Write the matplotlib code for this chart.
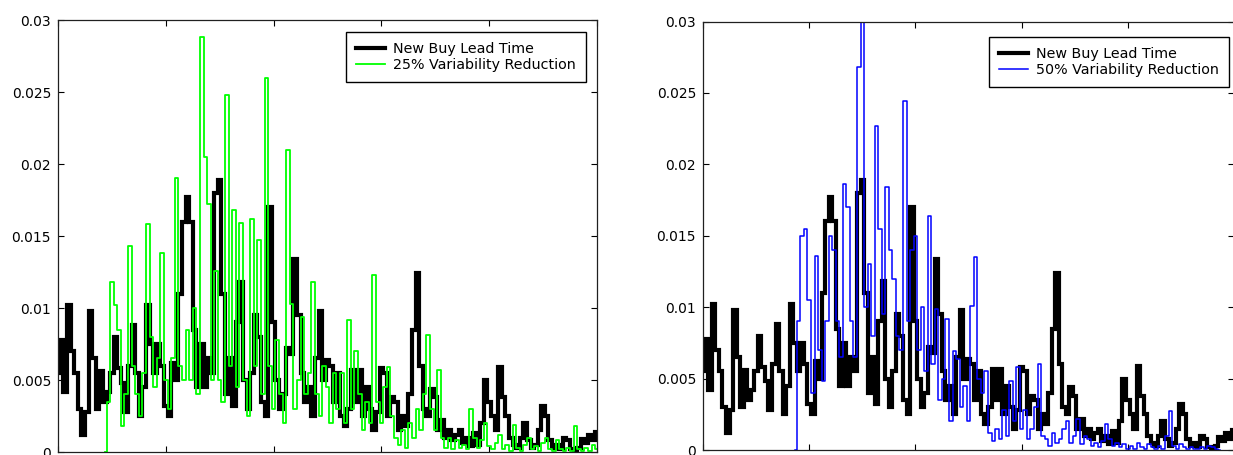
import numpy as np
import matplotlib
matplotlib.use("Agg")
import matplotlib.pyplot as plt

# Probability of each lead-time bin (x-axis in bins, y in probability)
base_start = 0
new_buy_lead_time = [
    5.5, 7.8, 4.2, 10.2, 7.0, 5.5, 3.0, 1.2, 2.8, 9.8,
    6.5, 3.0, 5.6, 3.5, 4.2, 5.5, 8.0, 5.8, 4.8, 2.8,
    6.0, 8.8, 5.5, 2.5, 4.5, 10.2, 7.5, 5.5, 7.5, 6.0,
    3.2, 2.5, 6.2, 5.0, 11.0, 16.0, 17.7, 16.0, 8.5, 4.5,
    7.5, 4.5, 6.5, 5.5, 18.0, 18.9, 11.0, 4.0, 6.5, 3.2,
    9.0, 11.8, 5.0, 3.0, 5.5, 9.5, 8.0, 3.5, 2.5, 17.0,
    9.0, 5.0, 3.0, 4.0, 7.2, 6.8, 13.4, 9.5, 5.5, 3.5,
    4.5, 2.5, 6.5, 9.8, 5.0, 6.4, 6.0, 3.5, 5.5, 2.5,
    1.8, 3.0, 5.7, 3.5, 5.7, 2.5, 4.5, 3.0, 1.5, 2.8,
    5.8, 5.5, 2.5, 3.8, 3.5, 1.5, 2.5, 1.8, 4.0, 8.5,
    12.4, 6.0, 3.0, 2.5, 4.4, 3.8, 1.5, 2.2, 1.0, 1.5,
    0.8, 1.2, 1.5, 0.6, 1.0, 0.4, 1.3, 0.5, 2.0, 5.0,
    3.5, 2.5, 1.5, 5.9, 3.8, 2.5, 1.0, 0.5, 0.3, 1.0,
    2.0, 0.8, 0.3, 0.5, 1.5, 3.2, 2.5, 0.8, 0.3, 0.5,
    0.2, 1.0, 0.8, 0.2, 0.1, 0.3, 0.9, 0.6, 1.2, 0.8,
    1.4,
]

reduction25_start = 13
reduction_25 = [
    0.0, 3.5, 11.8, 10.2, 8.5, 1.8, 4.0,
    14.3, 6.0, 4.0, 2.5, 5.5, 15.8, 8.0, 4.5, 6.5, 13.8,
    5.0, 3.0, 6.5, 19.0, 6.0, 5.0, 8.5, 5.0, 10.0, 4.0,
    28.8, 20.5, 17.2, 5.0, 12.6, 5.0, 3.5, 24.8, 6.0, 16.8,
    4.5, 15.9, 5.0, 2.5, 16.2, 6.0, 14.7, 4.0, 26.0, 6.0,
    3.0, 7.8, 4.0, 2.0, 21.0, 10.3, 3.0, 5.0, 9.4, 4.0,
    5.5, 11.8, 4.0, 2.5, 6.0, 4.5, 2.0, 5.5, 3.0, 5.5,
    2.0, 9.2, 3.0, 7.0, 4.0, 1.5, 3.5, 2.0, 12.3, 3.5,
    2.0, 4.5, 5.9, 2.5, 1.0, 0.5, 1.5, 0.3, 2.0, 1.0,
    3.0, 1.5, 4.0, 8.1, 3.0, 1.5, 5.7, 1.0, 0.3, 1.0,
    0.2, 0.8, 0.3, 0.5, 0.2, 3.0, 1.0, 0.3, 0.8, 2.0,
    0.4, 0.2, 0.6, 1.2, 0.2, 0.5, 0.1, 1.9, 0.3, 0.1,
    0.5, 1.0, 0.2, 0.4, 0.1, 0.6, 1.0, 0.2, 0.1, 0.8,
    0.2, 0.1, 0.3, 0.1, 1.8, 0.2, 0.1, 0.3, 0.1, 0.5, 0.2,
]

reduction50_start = 26
reduction_50 = [
    0.0, 9.0, 15.0, 15.5,
    10.5, 4.0, 13.6, 7.0, 4.8, 9.0, 15.0, 14.0, 9.0, 6.5,
    18.6, 17.0, 9.0, 6.5, 26.8, 30.0, 10.0, 13.0, 8.0, 22.7,
    15.5, 9.5, 18.4, 14.0, 12.0, 8.0, 7.0, 24.4, 9.0, 14.0,
    15.0, 7.0, 10.0, 5.5, 16.4, 6.0, 9.9, 3.5, 5.0, 9.2,
    2.0, 6.9, 6.4, 3.0, 4.5, 2.0, 10.1, 13.5, 5.0, 4.0,
    5.5, 1.2, 0.6, 1.5, 0.8, 2.8, 1.0, 4.8, 2.0, 5.8,
    1.5, 2.8, 0.8, 1.5, 3.0, 6.0, 1.0, 0.8, 0.3, 1.2,
    0.5, 0.8, 1.5, 2.0, 0.5, 1.0, 2.2, 0.4, 1.0, 0.8,
    0.3, 0.5, 0.2, 0.6, 1.8, 0.8, 0.3, 0.5, 0.2, 0.4,
    0.1, 0.3, 0.1, 0.5, 0.2, 0.1, 0.4, 0.2, 0.1, 0.3,
    0.1, 1.0, 2.7, 0.3, 0.1, 0.4, 0.2, 0.1, 0.2, 0.1,
    0.1, 0.2, 0.1, 0.3, 0.2, 0.1, 0.0,
]

y_ticks = [0, 0.005, 0.01, 0.015, 0.02, 0.025, 0.03]
y_tick_labels = ["0", "0.005", "0.01", "0.015", "0.02", "0.025", "0.03"]
x_ticks = [0, 30, 60, 90, 120, 150]

base_label = "New Buy Lead Time"
label_25 = "25% Variability Reduction"
label_50 = "50% Variability Reduction"


def series(start, values):
    v = np.asarray(values, dtype=float) * 1e-3
    x = np.arange(start, start + len(v))
    return x, v


plt.rcParams["font.family"] = ["DejaVu Sans"]
fig = plt.figure(figsize=(12.33, 4.55), dpi=100)

ax_left = fig.add_axes([58 / 1233, 1 - 452 / 455, 539 / 1233, 432 / 455])
ax_right = fig.add_axes([703 / 1233, 1 - 450 / 455, 531 / 1233, 428.5 / 455])

panels = [
    (ax_left, reduction25_start, reduction_25, label_25, (0, 1, 0), 1.3, (586 / 1233, 1 - 32 / 455)),
    (ax_right, reduction50_start, reduction_50, label_50, (0, 0, 1), 1.1, (1229 / 1233, 1 - 37 / 455)),
]

xb, yb = series(base_start, new_buy_lead_time)

for ax, start, vals, lab, col, lw, anchor in panels:
    ax.plot(xb, yb, color="black", lw=3.0, drawstyle="steps-mid",
            solid_joinstyle="miter", label=base_label)
    xs, ys = series(start, vals)
    ax.plot(xs, ys, color=col, lw=lw, drawstyle="steps-mid", label=lab)

    ax.set_xlim(0, 150)
    ax.set_ylim(0, 0.03)
    ax.set_xticks(x_ticks)
    ax.set_yticks(y_ticks)
    ax.set_yticklabels(y_tick_labels)
    ax.tick_params(direction="in", length=4, width=0.8, top=True, right=True,
                   labelbottom=False, labelsize=10, pad=5, colors="black")
    for sp in ax.spines.values():
        sp.set_linewidth(0.9)
        sp.set_color("#202020")

    leg = ax.legend(loc="upper right", bbox_to_anchor=anchor,
                    bbox_transform=fig.transFigure, borderaxespad=0,
                    fancybox=False, framealpha=1, edgecolor="black",
                    fontsize=10.3, handlelength=2.0, handletextpad=0.6,
                    labelspacing=0.12, borderpad=0.7)
    leg.get_frame().set_linewidth(1.0)

fig.savefig("out.png", dpi=100)
